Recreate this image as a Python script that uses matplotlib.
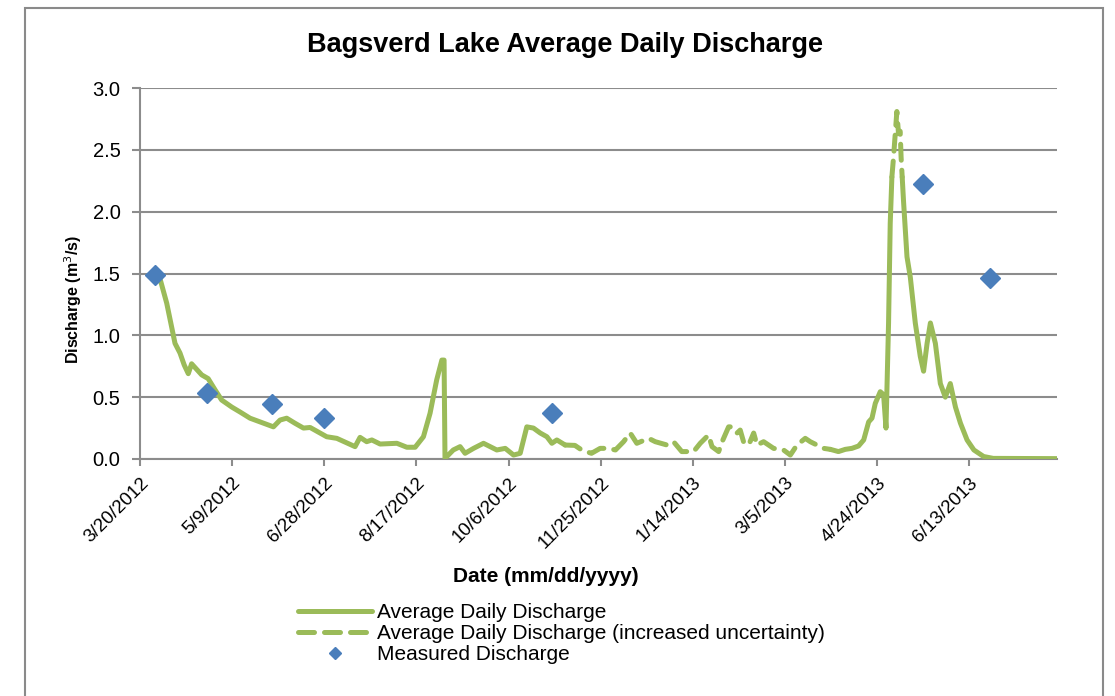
import numpy as np
import pandas as pd
import matplotlib
matplotlib.use("Agg")
import matplotlib.pyplot as plt
from matplotlib.patches import Rectangle
from matplotlib.ticker import FuncFormatter, MultipleLocator

plt.rcParams['font.family'] = ['Liberation Sans', 'DejaVu Sans']

# Days since 3/20/2012 and average daily discharge (m3/s)
start = pd.Timestamp("2012-03-20")
flow_days = [
    11, 14.5, 19, 21.7, 24, 26.2, 28, 33.5, 37, 40.7, 44.3, 49.8, 54.3, 59.7,
    66.9, 72.4, 76, 79.6, 84, 88.7, 92.3, 101.3, 106.8, 116.7, 119.4, 123,
    125.8, 130.3, 139.4, 144.8, 149.3, 153.8, 157.4, 161, 163.8, 165, 165.5,
    170, 173.7, 176.4, 181, 186.4, 193.6, 198.2, 202.7, 206.3, 209.9, 213.5,
    217.2, 220.8, 223.5, 226.2, 230.7,
    236, 240, 245, 249.7, 254, 258, 262.4, 266, 269.6, 276, 279.6, 286, 289.5,
    294, 300.4, 304, 308.5, 310.4, 314, 315.9, 319.4, 321.3, 324, 325.7, 327.5,
    330.3, 333, 334.8, 338.4, 343.8, 349.2, 352.9, 356.5, 361, 363.7, 367.4,
    371, 374.6,
    379, 382.7, 386.3, 389.9, 392.7, 395.4, 397.2, 399, 401.7, 403.5, 404.8,
    406.2, 407.1, 408,
    408.9, 409.8, 410.7, 411.6, 412.5, 413, 413.6,
    414.3, 416.2, 418, 420.7, 423.4, 425.2, 427.1, 428.9, 431.6, 434.3, 437,
    439.7, 442.5, 445.2, 448.8, 452.5, 457.8, 463, 497.6,
]
flow_vals = [
    1.45, 1.26, 0.935, 0.857, 0.76, 0.69, 0.77, 0.68, 0.65, 0.56, 0.477, 0.42,
    0.38, 0.33, 0.29, 0.26, 0.315, 0.33, 0.29, 0.25, 0.255, 0.18, 0.167, 0.10,
    0.175, 0.14, 0.154, 0.121, 0.127, 0.095, 0.095, 0.18, 0.37, 0.64, 0.80,
    0.80, 0.005, 0.073, 0.10, 0.046, 0.086, 0.127, 0.073, 0.086, 0.032, 0.046,
    0.26, 0.25, 0.21, 0.18, 0.127, 0.154, 0.113,
    0.11, 0.07, 0.046, 0.086, 0.086, 0.073, 0.14, 0.21, 0.127, 0.167, 0.14,
    0.113, 0.14, 0.06, 0.06, 0.127, 0.194, 0.10, 0.06, 0.14, 0.26, 0.26, 0.21,
    0.234, 0.14, 0.113, 0.21, 0.113, 0.14, 0.086, 0.073, 0.032, 0.113, 0.167,
    0.14, 0.113, 0.086, 0.078,
    0.06, 0.078, 0.086, 0.105, 0.154, 0.30, 0.33, 0.45, 0.544, 0.52, 0.25,
    1.10, 1.905, 2.28,
    2.44, 2.63, 2.81, 2.63, 2.65, 2.44, 2.28,
    2.09, 1.635, 1.47, 1.10, 0.83, 0.71, 0.935, 1.10, 0.935, 0.61, 0.50, 0.61,
    0.42, 0.29, 0.154, 0.073, 0.02, 0.005, 0.003,
]
# periods flagged as increased uncertainty (days since start)
uncertain_periods = [(230.7, 374.6), (408, 413.6)]

# measured discharge
meas_days = [8.1, 36.4, 71.7, 99.9, 223.7, 425, 461.5]
meas_vals = [1.49, 0.534, 0.445, 0.33, 0.37, 2.22, 1.46]

green = '#9bbb59'
blue = '#4a7ebb'
grid_gray = '#8c8c8c'

days = np.array(flow_days)
vals = np.array(flow_vals)
inside = np.zeros(len(days), bool)
edge = np.zeros(len(days), bool)
for a, b in uncertain_periods:
    inside |= (days > a) & (days < b)
    edge |= (days >= a) & (days <= b)
solid = np.where(inside, np.nan, vals)
dashed = np.where(edge, vals, np.nan)

dates = start + pd.to_timedelta(days, unit='D')
mdates_ = start + pd.to_timedelta(meas_days, unit='D')

fig = plt.figure(figsize=(11.15, 6.96), dpi=100)
fig.patches.append(Rectangle((25 / 1115, -0.05), 1078 / 1115, 1.05 - 8 / 696,
                             transform=fig.transFigure, fill=False,
                             edgecolor='#8a8a8a', linewidth=1.5))
ax = fig.add_axes([140 / 1115, 1 - 459 / 696, 917 / 1115, 371 / 696])

ax.plot(dates, solid, color=green, lw=3.6, solid_capstyle='round',
        solid_joinstyle='round', label='Average Daily Discharge', zorder=3)
ax.plot(dates, dashed, color=green, lw=3.6, dashes=(3.2, 2.0),
        dash_capstyle='round', label='Average Daily Discharge (increased uncertainty)',
        zorder=3)
ax.plot(mdates_, meas_vals, linestyle='none', marker='D', markersize=10.5,
        color=blue, label='Measured Discharge', zorder=4)

ax.set_xlim(start, start + pd.Timedelta(days=497.6))
ax.set_ylim(0, 3.0)
ticks = [start + pd.Timedelta(days=50 * k) for k in range(10)]
ax.set_xticks(ticks)
ax.set_xticklabels([f"{t.month}/{t.day}/{t.year}" for t in ticks],
                   rotation=45, ha='right', rotation_mode='anchor', fontsize=13.5)
ax.yaxis.set_major_locator(MultipleLocator(0.5))
ax.yaxis.set_major_formatter(FuncFormatter(lambda v, p: f"{v:.1f}"))
ax.tick_params(axis='y', labelsize=14.5, length=6, width=1.5, color=grid_gray, pad=8)
ax.tick_params(axis='x', length=5, width=1.5, color=grid_gray, pad=6)

ax.grid(axis='y', color=grid_gray, linewidth=1.5)
ax.set_axisbelow(True)
for s in ['top', 'right']:
    ax.spines[s].set_visible(False)
for s in ['left', 'bottom']:
    ax.spines[s].set_color(grid_gray)
    ax.spines[s].set_linewidth(1.5)

fig.text(565 / 1115, 1 - 45 / 696, 'Bagsverd Lake Average Daily Discharge',
         ha='center', va='center', fontsize=19.5, fontweight='bold')
fig.text(546 / 1115, 1 - 576 / 696, 'Date (mm/dd/yyyy)', ha='center',
         va='center', fontsize=15, fontweight='bold')
fig.text(73 / 1115, 1 - 300 / 696, 'Discharge (m$^3$/s)', ha='center',
         va='center', rotation=90, fontsize=11.5, fontweight='bold')

fig.legend(loc='upper left', bbox_to_anchor=(290 / 1115, 1 - 595 / 696),
           frameon=False, fontsize=15, handlelength=3.55, handletextpad=0.25,
           labelspacing=0.1, markerscale=0.55, borderaxespad=0)

fig.savefig('out.png', dpi=100)
